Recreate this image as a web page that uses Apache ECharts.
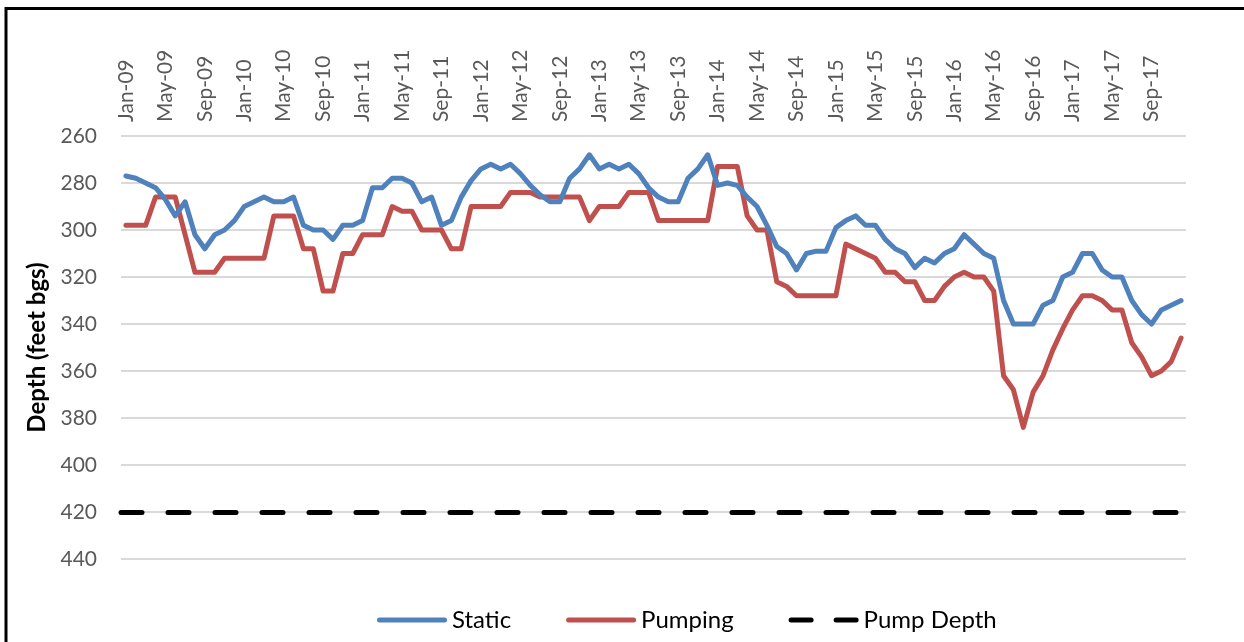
<!DOCTYPE html>
<html>
<head>
<meta charset="utf-8">
<script src="https://cdn.jsdelivr.net/npm/echarts@6/dist/echarts.min.js"></script>
<style>
  html, body { margin: 0; padding: 0; background: #fff; }
  #chart { width: 1244px; height: 642px; }
</style>
</head>
<body>
<div id="chart"></div>
<script>
// month categories Jan-09 .. Dec-17
const monthNames = ['Jan', 'Feb', 'Mar', 'Apr', 'May', 'Jun', 'Jul', 'Aug', 'Sep', 'Oct', 'Nov', 'Dec']
const years = ['09', '10', '11', '12', '13', '14', '15', '16', '17']
const months = []
years.forEach((y) => monthNames.forEach((m) => months.push(m + '-' + y)))

// depth to water, feet bgs
const staticLevel = [
  277, 278, 280, 282, 287, 294, 288, 302, 308, 302, 300, 296, 290, 288, 286, 288, 288, 286, 298, 300, 300, 304, 298, 298, 296, 282, 282,
  278, 278, 280, 288, 286, 298, 296, 286, 279, 274, 272, 274, 272, 276, 281, 285, 288, 288, 278, 274, 268, 274, 272, 274, 272, 276, 282,
  286, 288, 288, 278, 274, 268, 281, 280, 281, 286, 290, 298, 307, 310, 317, 310, 309, 309, 299, 296, 294, 298, 298, 304, 308, 310, 316,
  312, 314, 310, 308, 302, 306, 310, 312, 330, 340, 340, 340, 332, 330, 320, 318, 310, 310, 317, 320, 320, 330, 336, 340, 334, 332, 330,
]
const pumpingLevel = [
  298, 298, 298, 286, 286, 286, 302, 318, 318, 318, 312, 312, 312, 312, 312, 294, 294, 294, 308, 308, 326, 326, 310, 310, 302, 302, 302,
  290, 292, 292, 300, 300, 300, 308, 308, 290, 290, 290, 290, 284, 284, 284, 286, 286, 286, 286, 286, 296, 290, 290, 290, 284, 284, 284,
  296, 296, 296, 296, 296, 296, 273, 273, 273, 294, 300, 300, 322, 324, 328, 328, 328, 328, 328, 306, 308, 310, 312, 318, 318, 322, 322,
  330, 330, 324, 320, 318, 320, 320, 326, 362, 368, 384, 369, 362, 351, 342, 334, 328, 328, 330, 334, 334, 348, 354, 362, 360, 356, 346,
]
const pumpDepth = 420
const yTicks = { min: 260, max: 440, step: 20 }

const FONT = 'Lato'
// legend swatches: solid bar and two dashes
const solidIcon = 'path://M2.5,0 L67.5,0 A2.5,2.5 0 0 1 67.5,5 L2.5,5 A2.5,2.5 0 0 1 2.5,0 Z'
const dashIcon = 'path://M2.5,0 L22.5,0 A2.5,2.5 0 0 1 22.5,5 L2.5,5 A2.5,2.5 0 0 1 2.5,0 Z M47.5,0 L67.5,0 A2.5,2.5 0 0 1 67.5,5 L47.5,5 A2.5,2.5 0 0 1 47.5,0 Z'

const chart = echarts.init(document.getElementById('chart'))

const option = {
  animation: false,
  backgroundColor: '#fff',
  textStyle: { fontFamily: FONT },
  graphic: [
    {
      type: 'rect',
      shape: { x: 6, y: 8.5, width: 1300, height: 700 },
      style: { fill: 'none', stroke: '#000', lineWidth: 3 },
      silent: true,
    },
  ],
  grid: { left: 121, right: 58, top: 136, bottom: 83 },
  legend: {
    left: 372,
    top: 603,
    itemWidth: 70,
    itemHeight: 5,
    itemGap: 55,
    textStyle: { fontFamily: FONT, fontSize: 24, color: '#000' },
    data: [
      { name: 'Static', icon: solidIcon },
      { name: 'Pumping', icon: solidIcon },
      { name: 'Pump Depth', icon: dashIcon },
    ],
  },
  xAxis: {
    type: 'category',
    position: 'top',
    data: months,
    boundaryGap: true,
    axisLine: { show: false },
    axisTick: { show: false },
    axisLabel: {
      interval: 3,
      rotate: -90,
      margin: 14,
      fontSize: 21,
      color: '#595959',
      fontFamily: FONT,
    },
  },
  yAxis: {
    type: 'value',
    inverse: true,
    min: yTicks.min,
    max: yTicks.max,
    interval: yTicks.step,
    name: 'Depth (feet bgs)',
    nameLocation: 'middle',
    nameGap: 72,
    nameTextStyle: { fontFamily: FONT, fontSize: 24, fontWeight: 'bold', color: '#000' },
    axisLine: { show: false },
    axisTick: { show: false },
    axisLabel: { margin: 24, fontSize: 21, color: '#595959', fontFamily: FONT },
    splitLine: { lineStyle: { color: '#D9D9D9', width: 2 } },
  },
  series: [
    {
      name: 'Static',
      type: 'line',
      data: staticLevel,
      symbol: 'none',
      color: '#4F81BD',
      lineStyle: { width: 5, color: '#4F81BD', join: 'round', cap: 'round' },
      z: 3,
    },
    {
      name: 'Pumping',
      type: 'line',
      data: pumpingLevel,
      symbol: 'none',
      color: '#C0504D',
      lineStyle: { width: 5, color: '#C0504D', join: 'round', cap: 'round' },
      z: 2,
    },
    {
      name: 'Pump Depth',
      type: 'line',
      data: [],
      symbol: 'none',
      color: '#000',
      lineStyle: { width: 5, color: '#000', type: [21, 26], cap: 'round' },
      markLine: {
        silent: true,
        symbol: ['none', 'none'],
        label: { show: false },
        lineStyle: { width: 5, color: '#000', type: [21, 26], cap: 'round' },
        data: [{ yAxis: pumpDepth }],
      },
    },
  ],
}

chart.setOption(option)
window.addEventListener('resize', () => chart.resize())
</script>
</body>
</html>
